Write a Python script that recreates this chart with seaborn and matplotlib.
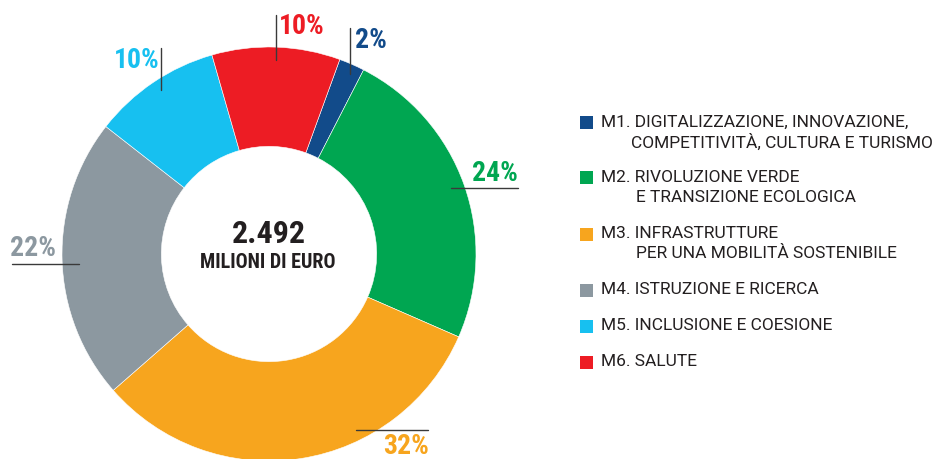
import matplotlib
matplotlib.use("Agg")
import matplotlib.pyplot as plt
import matplotlib.font_manager as fm
from matplotlib.lines import Line2D
from matplotlib.patches import Rectangle
import seaborn as sns

# Mission shares of the 2.492 million euro allocation (percent)
missions = ["M1", "M2", "M3", "M4", "M5", "M6"]
shares = [2, 24, 32, 22, 10, 10]
legend_lines = [
    ["M1. DIGITALIZZAZIONE, INNOVAZIONE,", "COMPETITIVITÀ, CULTURA E TURISMO"],
    ["M2. RIVOLUZIONE VERDE", "E TRANSIZIONE ECOLOGICA"],
    ["M3. INFRASTRUTTURE", "PER UNA MOBILITÀ SOSTENIBILE"],
    ["M4. ISTRUZIONE E RICERCA"],
    ["M5. INCLUSIONE E COESIONE"],
    ["M6. SALUTE"],
]
total_label = "2.492"
unit_label = "MILIONI DI EURO"

sns.set_theme(style="white")
palette = sns.color_palette(["#124B8A", "#00A651", "#F7A51E", "#8C98A0", "#17C0F0", "#ED1C24"])

installed = {f.name for f in fm.fontManager.ttflist}


def first_font(candidates, default="DejaVu Sans"):
    for name in candidates:
        if name in installed:
            return name
    return default


condensed = first_font(["Roboto Condensed", "Barlow Semi Condensed", "Fira Sans Condensed",
                        "IBM Plex Sans Condensed", "PT Sans Narrow", "Archivo Narrow",
                        "Liberation Sans Narrow", "Roboto"])
body = first_font(["Roboto", "Liberation Sans"])
plt.rcParams["font.family"] = [body, "DejaVu Sans"]

W, H = 939, 459
fig = plt.figure(figsize=(W / 100, H / 100), dpi=100)
fig.patch.set_facecolor("white")


def fx(px):
    return px / W


def fy(py):
    return 1 - py / H


# Donut: centre (269, 254) px, outer radius 207 px
cx, cy, r = 269, 254, 207
ax = fig.add_axes([fx(cx - r), fy(cy + r), 2 * r / W, 2 * r / H])
wedges, _ = ax.pie(
    shares,
    colors=palette,
    startangle=70,
    counterclock=False,
    radius=1.0,
    wedgeprops=dict(width=0.48, linewidth=0.4, edgecolor="white"),
)
ax.set_xlim(-1, 1)
ax.set_ylim(-1, 1)
ax.set_aspect("equal")
ax.axis("off")
for w in wedges:
    w.set_clip_on(False)

# Centre text
fig.text(fx(269), fy(234), total_label, ha="center", va="center",
         fontsize=23, fontweight="bold", color="#231F20", family=[condensed, "DejaVu Sans"])
fig.text(fx(268), fy(262), unit_label, ha="center", va="center",
         fontsize=14.5, fontweight="bold", color="#231F20", family=[condensed, "DejaVu Sans"])

# Percentage labels with leader lines (text position, leader line endpoints)
label_layout = [
    ((371, 40), ((350, 350), (28, 74))),
    ((495, 173), ((451, 518), (188, 188))),
    ((406, 446), ((356, 428), (430, 430))),
    ((33, 248), ((12, 79), (264, 264))),
    ((137, 61), ((161, 161), (48, 90))),
    ((302, 26), ((276, 276), (15, 60))),
]
for share, color, ((tx, ty), (lx, ly)) in zip(shares, palette, label_layout):
    fig.text(fx(tx), fy(ty), f"{share}%", ha="center", va="center",
             fontsize=20, fontweight="bold", color=color, family=[condensed, "DejaVu Sans"])
    fig.add_artist(Line2D([fx(lx[0]), fx(lx[1])], [fy(ly[0]), fy(ly[1])],
                          color="#3a3a3a", linewidth=1.0, transform=fig.transFigure))

# Legend
first_line_y = [122, 177, 234, 290, 326, 362]
indent_x = [631, 636, 636, 636, 636, 636]
for lines, color, y0, x2 in zip(legend_lines, palette, first_line_y, indent_x):
    fig.add_artist(Rectangle((fx(580), fy(y0 + 7)), 13 / W, 13 / H,
                             facecolor=color, edgecolor="none",
                             transform=fig.transFigure))
    fig.text(fx(601), fy(y0), lines[0], ha="left", va="center",
             fontsize=12.5, color="#231F20")
    if len(lines) > 1:
        fig.text(fx(x2), fy(y0 + 20), lines[1], ha="left", va="center",
                 fontsize=12.5, color="#231F20")

fig.savefig("out.png", dpi=100, facecolor="white")
